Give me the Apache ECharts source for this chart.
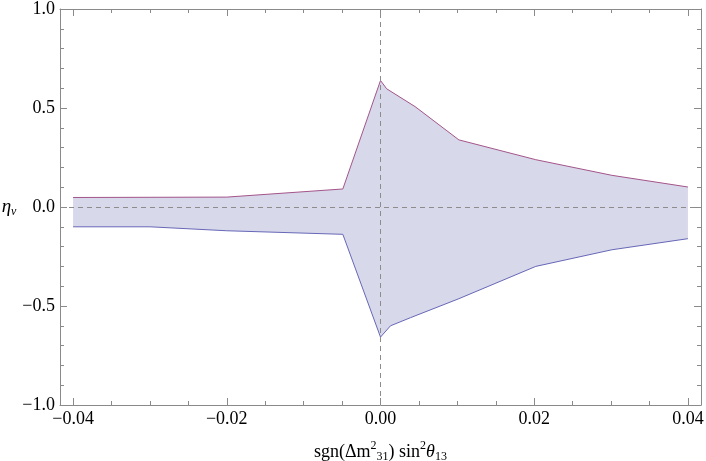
<!DOCTYPE html>
<html>
<head>
<meta charset="utf-8">
<script src="https://cdn.jsdelivr.net/npm/echarts@6/dist/echarts.min.js"></script>
<style>
html,body{margin:0;padding:0;background:#fff;}
#c{width:706px;height:461px;}
</style>
</head>
<body>
<div id="c"></div>
<script>
// Upper boundary (purple line)
var upperX = [-0.04, -0.02, -0.0049, 0.0, 0.0008, 0.0045, 0.0102, 0.0202, 0.0301, 0.04];
var upperY = [0.048, 0.05, 0.091, 0.639, 0.597, 0.507, 0.339, 0.239, 0.16, 0.101];
// Lower boundary (blue line)
var lowerX = [-0.04, -0.03, -0.02, -0.0049, 0.0, 0.0013, 0.0039, 0.0102, 0.0202, 0.0301, 0.04];
var lowerY = [-0.10, -0.10, -0.12, -0.138, -0.657, -0.60, -0.559, -0.463, -0.30, -0.216, -0.16];
// Tick values
var xMajor = [-0.04, -0.02, 0.0, 0.02, 0.04];
var xMinor = [-0.035, -0.03, -0.025, -0.015, -0.01, -0.005, 0.005, 0.01, 0.015, 0.025, 0.03, 0.035];
var xRange = [-0.0417, 0.0417];
var yRange = [-1, 1];

function pairs(xs, ys) { return xs.map(function (x, i) { return [x, ys[i]]; }); }
var upper = pairs(upperX, upperY);
var lower = pairs(lowerX, lowerY);

var frameColor = '#8a8a8a';
var font = "'Liberation Serif', 'Times New Roman', 'DejaVu Serif', serif";
function fmtNum(v, d) {
  var s = Math.abs(v).toFixed(d);
  return (v < -1e-9 ? '\u2212' : '') + s;
}

function xAxisDef(pos, ticks, len, showLabel, showLine) {
  return {
    type: 'value', position: pos, min: xRange[0], max: xRange[1],
    axisLine: { show: showLine, onZero: false, lineStyle: { color: frameColor, width: 1 } },
    axisTick: { show: true, inside: true, length: len, customValues: ticks, lineStyle: { color: frameColor } },
    axisLabel: showLabel ? {
      show: true, customValues: xMajor, margin: 5,
      fontFamily: font, fontSize: 18, color: '#000',
      formatter: function (v) { return fmtNum(v, 2); }
    } : { show: false },
    splitLine: { show: false }
  };
}
function yAxisDef(pos, showLabel) {
  return {
    type: 'value', position: pos, min: yRange[0], max: yRange[1], interval: 0.5,
    axisLine: { show: true, onZero: false, lineStyle: { color: frameColor, width: 1 } },
    axisTick: { show: true, inside: true, length: 7, lineStyle: { color: frameColor } },
    minorTick: { show: true, splitNumber: 5, length: 4, lineStyle: { color: frameColor } },
    axisLabel: showLabel ? {
      show: true, margin: 5, fontFamily: font, fontSize: 18, color: '#000',
      formatter: function (v) { return fmtNum(v, 1); }
    } : { show: false },
    splitLine: { show: false }
  };
}

var xa0 = xAxisDef('bottom', xMajor, 7, true, true);
xa0.name = 'sgn(\u0394m{sup|2}{sub|31}) sin{sup|2}{it|\u03b8}{sub|13}';
xa0.nameLocation = 'middle';
xa0.nameGap = 35;
xa0.nameTextStyle = {
  fontFamily: font, fontSize: 18, color: '#000',
  rich: {
    sup: { fontFamily: font, fontSize: 12, color: '#000', padding: [0, 0, 12, 0] },
    sub: { fontFamily: font, fontSize: 12, color: '#000', padding: [10, 0, 0, 0] },
    it: { fontFamily: font, fontSize: 18, fontStyle: 'italic', color: '#000' }
  }
};
var ya0 = yAxisDef('left', true);
ya0.name = '{it|\u03b7}{sub|\u03bd}';
ya0.nameLocation = 'middle';
ya0.nameRotate = 0;
ya0.nameGap = 36;
ya0.nameTextStyle = {
  fontFamily: font, fontSize: 18, color: '#000', align: 'right',
  rich: {
    it: { fontFamily: font, fontSize: 19, fontStyle: 'italic', color: '#000' },
    sub: { fontFamily: font, fontSize: 12, fontStyle: 'italic', color: '#000', padding: [9, 0, 0, 0] }
  }
};

var chart = echarts.init(document.getElementById('c'), null, { renderer: 'canvas' });
chart.setOption({
  animation: false,
  backgroundColor: '#fff',
  textStyle: { fontFamily: font },
  grid: { left: 60, right: 5, top: 9, bottom: 56, containLabel: false, outerBoundsMode: 'none' },
  xAxis: [
    xa0,
    xAxisDef('bottom', xMinor, 4, false, false),
    xAxisDef('top', xMajor, 7, false, true),
    xAxisDef('top', xMinor, 4, false, false)
  ],
  yAxis: [ya0, yAxisDef('right', false)],
  series: [
    {
      type: 'custom', xAxisIndex: 0, yAxisIndex: 0, z: 1, silent: true,
      data: [[0, 0]],
      renderItem: function (params, api) {
        var pts = [];
        upper.forEach(function (p) { pts.push(api.coord(p)); });
        for (var i = lower.length - 1; i >= 0; i--) pts.push(api.coord(lower[i]));
        return { type: 'polygon', shape: { points: pts }, style: { fill: 'rgb(216,216,235)', stroke: null } };
      }
    },
    {
      type: 'line', xAxisIndex: 0, yAxisIndex: 0, z: 3, data: upper,
      showSymbol: false, symbol: 'none',
      lineStyle: { color: '#a3558a', width: 1 },
      markLine: {
        silent: true, symbol: 'none', animation: false,
        label: { show: false },
        lineStyle: { color: '#8c8c8c', type: [5, 4], width: 1 },
        data: [{ yAxis: 0 }, { xAxis: 0 }]
      }
    },
    {
      type: 'line', xAxisIndex: 0, yAxisIndex: 0, z: 3, data: lower,
      showSymbol: false, symbol: 'none',
      lineStyle: { color: '#6767b8', width: 1 }
    }
  ]
});
</script>
</body>
</html>
